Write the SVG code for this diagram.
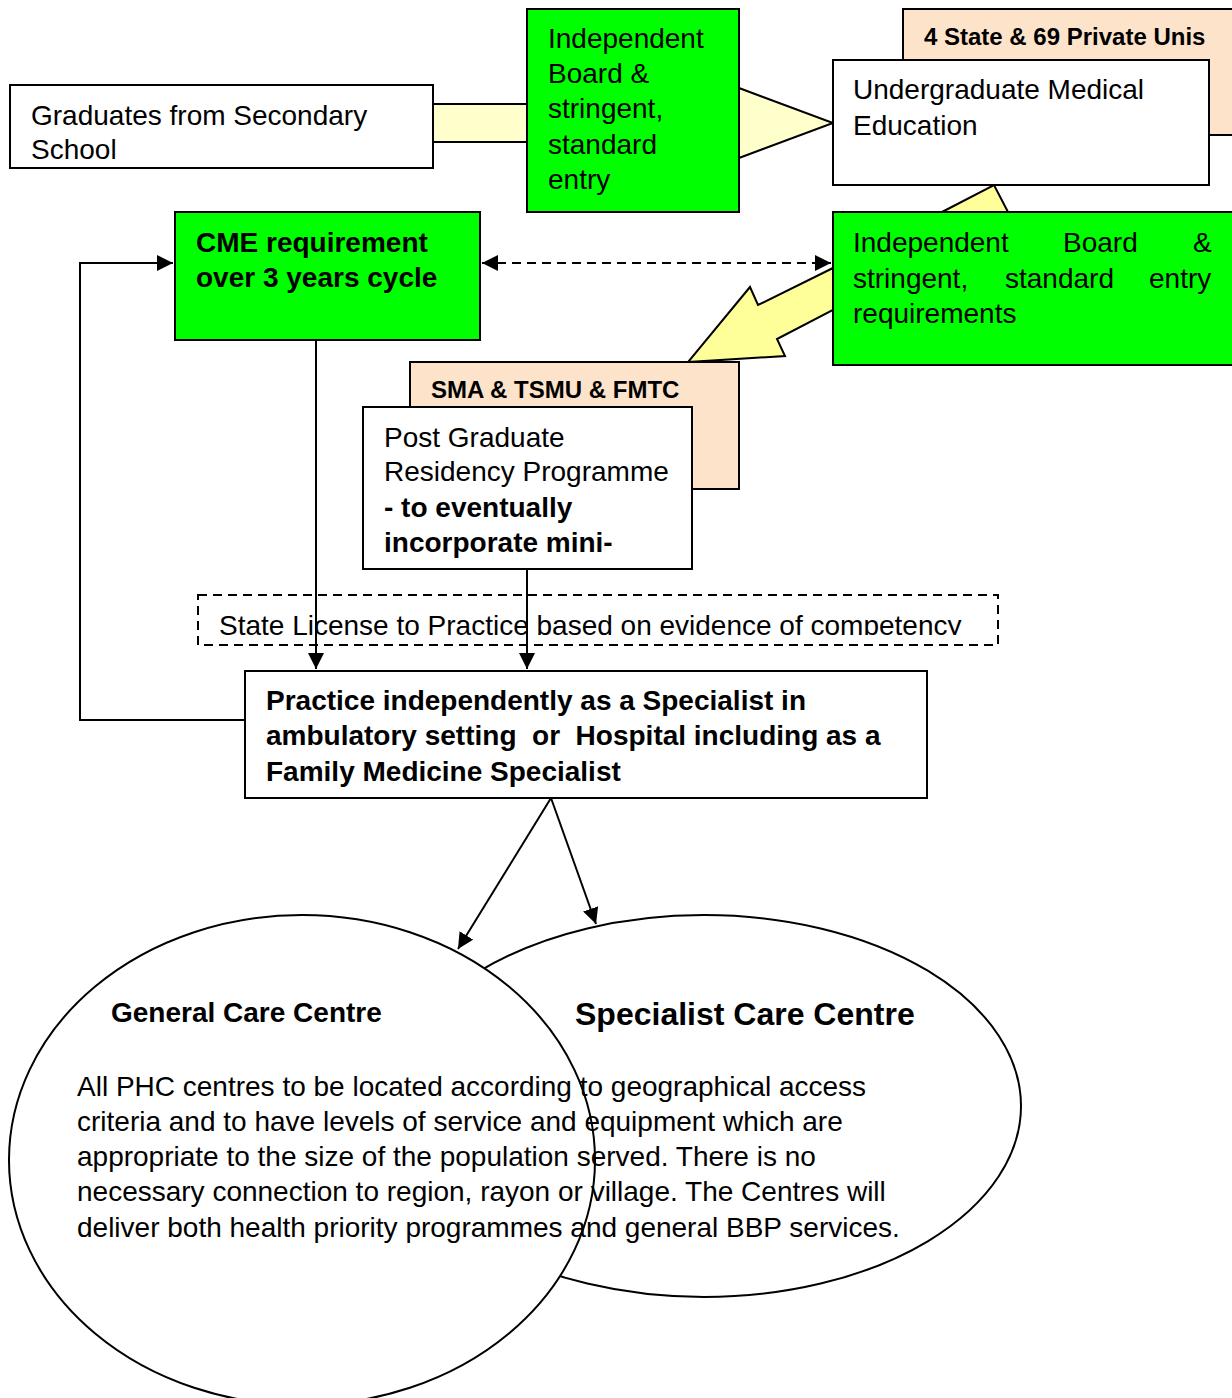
<svg xmlns="http://www.w3.org/2000/svg" width="1232" height="1398" viewBox="0 0 1232 1398">
<style>
text{font-family:"Liberation Sans",Arial,sans-serif;fill:#000}
.t{font-size:28px}
.b{font-size:28px;font-weight:bold}
.h{font-size:24px;font-weight:bold}
.box{fill:#fff;stroke:#000;stroke-width:2}
.grn{fill:#00FF00;stroke:#000;stroke-width:2}
.pch{fill:#FDE3CA;stroke:#000;stroke-width:2}
.ly{fill:#FFFFCC;stroke:#000;stroke-width:2}
.dy{fill:#FFFF99;stroke:#000;stroke-width:2;stroke-linejoin:miter}
.ln{fill:none;stroke:#000;stroke-width:2}
.dash{fill:none;stroke:#000;stroke-width:2;stroke-dasharray:9 6}
</style>
<defs>
<marker id="ah" viewBox="0 0 10 10" refX="10" refY="5" markerWidth="16" markerHeight="16" markerUnits="userSpaceOnUse" orient="auto-start-reverse">
<path d="M0,0 L10,5 L0,10 z" fill="#000"/>
</marker>
<clipPath id="lic"><rect x="198" y="595" width="800" height="40"/></clipPath>
</defs>

<g id="ellipses">
<g id="specialist">
<ellipse cx="704" cy="1106" rx="317" ry="191" class="box"/>
</g>
<g id="general">
<ellipse cx="302" cy="1160" rx="293" ry="245" class="box"/>
</g>
</g>

<g id="connectors">
<rect x="433" y="104" width="94" height="38" fill="#FFFFCC"/>
<line x1="433" y1="104" x2="527" y2="104" class="ln"/>
<line x1="433" y1="142" x2="527" y2="142" class="ln"/>
<polygon points="739,88 833,123 739,158" class="ly"/>
<polygon points="942,212 994,185 1008,212" class="dy"/>
<polygon points="833,268 758,305 750,287 688,362 785,356 777,339 833,310" class="dy"/>
<line x1="482" y1="263" x2="831" y2="263" class="dash" marker-start="url(#ah)" marker-end="url(#ah)"/>
<polyline points="245,720 80,720 80,263 173,263" class="ln" marker-end="url(#ah)"/>
<line x1="316" y1="340" x2="316" y2="669" class="ln" marker-end="url(#ah)"/>
<line x1="527" y1="569" x2="527" y2="669" class="ln" marker-end="url(#ah)"/>
<line x1="551" y1="798" x2="458" y2="949" class="ln" marker-end="url(#ah)"/>
<line x1="551" y1="798" x2="596" y2="924" class="ln" marker-end="url(#ah)"/>
</g>

<g id="graduates">
<rect x="10" y="85" width="423" height="83" class="box"/>
<text class="t" x="31" y="125">Graduates from Secondary</text>
<text class="t" x="31" y="159">School</text>
</g>

<g id="board1">
<rect x="527" y="9" width="212" height="203" class="grn"/>
<text class="t" x="548" y="48">Independent</text>
<text class="t" x="548" y="83">Board &amp;</text>
<text class="t" x="548" y="118">stringent,</text>
<text class="t" x="548" y="154">standard</text>
<text class="t" x="548" y="189">entry</text>
</g>

<g id="unis">
<rect x="903" y="9" width="332" height="126" class="pch"/>
<text class="h" x="924" y="45">4 State &amp; 69 Private Unis</text>
</g>

<g id="undergrad">
<rect x="833" y="60" width="376" height="125" class="box"/>
<text class="t" x="853" y="99">Undergraduate Medical</text>
<text class="t" x="853" y="135">Education</text>
</g>

<g id="board2">
<rect x="833" y="212" width="401" height="153" class="grn"/>
<text class="t" y="252"><tspan x="853">Independent</tspan><tspan x="1063">Board</tspan><tspan x="1193">&amp;</tspan></text>
<text class="t" y="288"><tspan x="853">stringent,</tspan><tspan x="1005">standard</tspan><tspan x="1149">entry</tspan></text>
<text class="t" x="853" y="323">requirements</text>
</g>

<g id="cme">
<rect x="175" y="212" width="305" height="128" class="grn"/>
<text class="b" x="196" y="252">CME requirement</text>
<text class="b" x="196" y="287">over 3 years cycle</text>
</g>

<g id="sma">
<rect x="410" y="362" width="329" height="127" class="pch"/>
<text class="h" x="431" y="398">SMA &amp; TSMU &amp; FMTC</text>
</g>

<g id="postgrad">
<rect x="363" y="407" width="329" height="162" class="box"/>
<text class="t" x="384" y="447">Post Graduate</text>
<text class="t" x="384" y="481">Residency Programme</text>
<text class="b" x="384" y="517">- to eventually</text>
<text class="b" x="384" y="552">incorporate mini-</text>
</g>

<g id="license">
<rect x="198" y="595" width="800" height="50" class="dash"/>
<text class="t" x="219" y="635" clip-path="url(#lic)">State License to Practice based on evidence of competency</text>
</g>

<g id="practice">
<rect x="245" y="671" width="682" height="127" class="box"/>
<text class="b" x="266" y="710">Practice independently as a Specialist in</text>
<text class="b" x="266" y="745" xml:space="preserve">ambulatory setting  or  Hospital including as a</text>
<text class="b" x="266" y="781">Family Medicine Specialist</text>
</g>

<g id="labels">
<text class="b" x="111" y="1022">General Care Centre</text>
<text class="b" x="575" y="1025" style="font-size:32px">Specialist Care Centre</text>
<text class="t" x="77" y="1096">All PHC centres to be located according to geographical access</text>
<text class="t" x="77" y="1131">criteria and to have levels of service and equipment which are</text>
<text class="t" x="77" y="1166">appropriate to the size of the population served. There is no</text>
<text class="t" x="77" y="1201">necessary connection to region, rayon or village. The Centres will</text>
<text class="t" x="77" y="1237">deliver both health priority programmes and general BBP services.</text>
</g>
</svg>
